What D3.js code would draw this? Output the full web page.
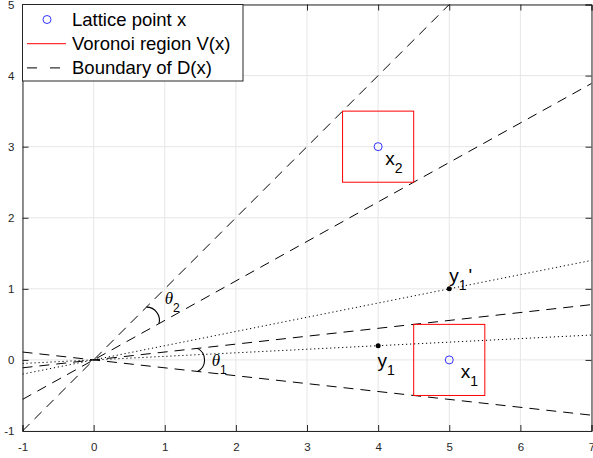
<!DOCTYPE html>
<html>
<head>
<meta charset="utf-8">
<script src="https://cdn.jsdelivr.net/npm/d3@7"></script>
<style>
  html, body { margin: 0; padding: 0; background: #fff; }
  svg { display: block; }
</style>
</head>
<body>
<svg id="chart" width="593" height="458"></svg>
<script>
// ---------- data ----------
const xDomain = [-1, 7];
const yDomain = [-1, 5];
const xTicks = [-1, 0, 1, 2, 3, 4, 5, 6, 7];
const yTicks = [-1, 0, 1, 2, 3, 4, 5];

// lattice points x1, x2
const latticePoints = [
  { name: "x", sub: "1", x: 5, y: 0, lx: 5.16, ly: -0.25 },
  { name: "x", sub: "2", x: 4, y: 3, lx: 4.10, ly: 2.74 }
];
const voronoiHalf = 0.5;

// corner points of the Voronoi regions defining the boundary of D(x)
const boundaryCorners = [
  { x: 4.5, y: 0.5 },
  { x: 4.5, y: -0.5 },
  { x: 3.5, y: 3.5 },
  { x: 4.5, y: 2.5 }
];

// points y1, y1' (dotted rays through origin)
const yPoints = [
  { name: "y", sub: "1", prime: "", x: 4, y: 0.2, lx: 3.99, ly: -0.094 },
  { name: "y", sub: "1", prime: "'", x: 5, y: 1, lx: 5.0, ly: 1.10 }
];

// angle arcs: between two boundary rays (upper, lower), at radius r (data units)
const angleArcs = [
  { label: "1", a: 0, b: 1, r: 1.47, lx: 1.66, ly: -0.085 },
  { label: "2", a: 2, b: 3, r: 1.05, lx: 1.0, ly: 0.79 }
];

const legendItems = ["Lattice point x", "Voronoi region V(x)", "Boundary of D(x)"];

// ---------- layout ----------
const svg = d3.select("#chart");
const pL = 22.5, pR = 591.5, pT = 4.5, pB = 431;
const x = d3.scaleLinear().domain(xDomain).range([pL, pR]);
const y = d3.scaleLinear().domain(yDomain).range([pB, pT]);
const axisColor = "#262626";
const font = "'Liberation Sans', Arial, Helvetica, sans-serif";

svg.append("defs").append("clipPath").attr("id", "clip")
  .append("rect").attr("x", pL).attr("y", pT)
  .attr("width", pR - pL).attr("height", pB - pT);

// grid
const grid = svg.append("g");
grid.selectAll("line.gx").data(xTicks).join("line")
  .attr("x1", d => x(d)).attr("x2", d => x(d))
  .attr("y1", pT).attr("y2", pB)
  .attr("stroke", "#e6e6e6").attr("stroke-width", 1);
grid.selectAll("line.gy").data(yTicks).join("line")
  .attr("y1", d => y(d)).attr("y2", d => y(d))
  .attr("x1", pL).attr("x2", pR)
  .attr("stroke", "#e6e6e6").attr("stroke-width", 1);

// axes
const tickFmt = d => String(d);
const xAxisB = svg.append("g").attr("transform", `translate(0,${pB})`)
  .call(d3.axisBottom(x).tickValues(xTicks).tickSize(-6).tickPadding(12).tickFormat(tickFmt));
const xAxisT = svg.append("g").attr("transform", `translate(0,${pT})`)
  .call(d3.axisTop(x).tickValues(xTicks).tickSize(-6).tickFormat(""));
const yAxisL = svg.append("g").attr("transform", `translate(${pL},0)`)
  .call(d3.axisLeft(y).tickValues(yTicks).tickSize(-6).tickPadding(8).tickFormat(tickFmt));
const yAxisR = svg.append("g").attr("transform", `translate(${pR},0)`)
  .call(d3.axisRight(y).tickValues(yTicks).tickSize(-6).tickFormat(""));
[xAxisB, xAxisT, yAxisL, yAxisR].forEach(g => {
  g.select(".domain").attr("stroke", axisColor).attr("stroke-width", 1);
  g.selectAll(".tick line").attr("stroke", axisColor).attr("stroke-width", 1);
  g.selectAll("text").attr("fill", axisColor).attr("font-family", font).attr("font-size", 11.5);
});

const plot = svg.append("g").attr("clip-path", "url(#clip)");

// boundary rays (dashed) and dotted rays
const rayLine = (pt, dash, sw) => {
  const s = pt.y / pt.x;
  plot.append("line")
    .attr("x1", x(xDomain[0])).attr("y1", y(s * xDomain[0]))
    .attr("x2", x(xDomain[1])).attr("y2", y(s * xDomain[1]))
    .attr("stroke", "#000").attr("stroke-width", sw)
    .attr("stroke-dasharray", dash);
};
boundaryCorners.forEach(c => rayLine(c, "10,7", 1));
yPoints.forEach(p => rayLine(p, "1.2,2.8", 1));

// Voronoi squares
plot.selectAll("rect.vor").data(latticePoints).join("rect")
  .attr("x", d => x(d.x - voronoiHalf))
  .attr("y", d => y(d.y + voronoiHalf))
  .attr("width", d => x(d.x + voronoiHalf) - x(d.x - voronoiHalf))
  .attr("height", d => y(d.y - voronoiHalf) - y(d.y + voronoiHalf))
  .attr("fill", "none").attr("stroke", "#ff0000").attr("stroke-width", 1);

// lattice points
plot.selectAll("circle.lat").data(latticePoints).join("circle")
  .attr("cx", d => x(d.x)).attr("cy", d => y(d.y)).attr("r", 4)
  .attr("fill", "none").attr("stroke", "#0000ff").attr("stroke-width", 0.8);

// y points
plot.selectAll("circle.yp").data(yPoints).join("circle")
  .attr("cx", d => x(d.x)).attr("cy", d => y(d.y)).attr("r", 2.5)
  .attr("fill", "#000");

// angle arcs
angleArcs.forEach(a => {
  const pa = boundaryCorners[a.a], pb = boundaryCorners[a.b];
  const ta = Math.atan2(pa.y, pa.x), tb = Math.atan2(pb.y, pb.x);
  const x1 = x(a.r * Math.cos(ta)), y1 = y(a.r * Math.sin(ta));
  const x2 = x(a.r * Math.cos(tb)), y2 = y(a.r * Math.sin(tb));
  plot.append("path")
    .attr("d", `M${x1},${y1} A13,13 0 0 1 ${x2},${y2}`)
    .attr("fill", "none").attr("stroke", "#000").attr("stroke-width", 1.1);
  const t = svg.append("text").attr("x", x(a.lx)).attr("y", y(a.ly))
    .attr("font-family", "'Liberation Serif', 'Times New Roman', serif")
    .attr("fill", "#000");
  t.append("tspan").attr("font-style", "italic").attr("font-size", 17).text("θ");
  t.append("tspan").attr("font-family", font).attr("font-size", 12).attr("dy", 8).text(a.label);
});

// point labels
const labelPts = latticePoints.concat(yPoints);
labelPts.forEach(p => {
  const t = svg.append("text").attr("x", x(p.lx)).attr("y", y(p.ly))
    .attr("font-family", font).attr("font-size", 19).attr("fill", "#000");
  t.append("tspan").text(p.name);
  t.append("tspan").attr("font-size", 14).attr("dy", 8).text(p.sub);
  if (p.prime) t.append("tspan").attr("dy", -8).attr("dx", 2).text(p.prime);
});

// legend
const lg = svg.append("g");
lg.append("rect").attr("x", pL).attr("y", pT).attr("width", 243 - pL).attr("height", 81 - pT)
  .attr("fill", "#fff").attr("stroke", axisColor).attr("stroke-width", 1);
const rowY = i => 19.5 + i * 24.2;
lg.append("circle").attr("cx", 47).attr("cy", rowY(0)).attr("r", 4)
  .attr("fill", "none").attr("stroke", "#0000ff").attr("stroke-width", 0.8);
lg.append("line").attr("x1", 27).attr("x2", 66).attr("y1", rowY(1)).attr("y2", rowY(1))
  .attr("stroke", "#ff0000").attr("stroke-width", 1);
lg.append("line").attr("x1", 27).attr("x2", 66).attr("y1", rowY(2)).attr("y2", rowY(2))
  .attr("stroke", "#000").attr("stroke-width", 1).attr("stroke-dasharray", "10,13");
lg.selectAll("text.lt").data(legendItems).join("text")
  .attr("x", 72).attr("y", (d, i) => rowY(i)).attr("dy", "0.35em")
  .attr("font-family", font).attr("font-size", 18.5).attr("fill", "#000")
  .text(d => d);
</script>
</body>
</html>
